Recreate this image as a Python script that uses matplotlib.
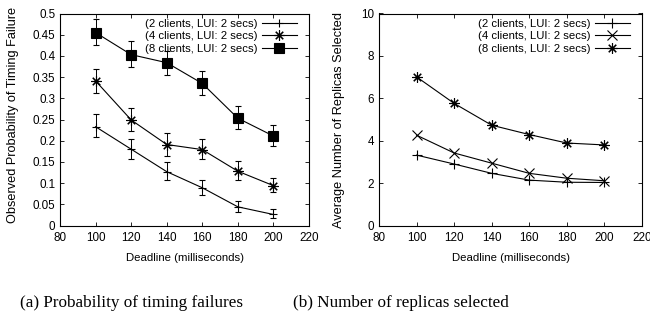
import numpy as np
import matplotlib
matplotlib.use('Agg')
import matplotlib.pyplot as plt
from matplotlib.ticker import FormatStrFormatter

plt.rcParams['font.family'] = ['Liberation Sans', 'DejaVu Sans']

deadline = [100, 120, 140, 160, 180, 200]
labels = ['(2 clients, LUI: 2 secs)', '(4 clients, LUI: 2 secs)', '(8 clients, LUI: 2 secs)']

# probability of timing failure, with error bar bounds
fail_2 = [0.233, 0.180, 0.127, 0.089, 0.044, 0.026]
fail_2_lo = [0.208, 0.157, 0.107, 0.073, 0.032, 0.017]
fail_2_hi = [0.262, 0.205, 0.149, 0.108, 0.058, 0.038]
fail_4 = [0.341, 0.249, 0.191, 0.179, 0.128, 0.094]
fail_4_lo = [0.312, 0.222, 0.165, 0.156, 0.108, 0.078]
fail_4_hi = [0.370, 0.277, 0.217, 0.203, 0.152, 0.113]
fail_8 = [0.455, 0.403, 0.384, 0.335, 0.253, 0.211]
fail_8_lo = [0.425, 0.373, 0.356, 0.307, 0.227, 0.187]
fail_8_hi = [0.488, 0.435, 0.412, 0.365, 0.281, 0.238]

# average number of replicas selected
repl_2 = [3.32, 2.90, 2.46, 2.14, 2.04, 2.03]
repl_4 = [4.26, 3.42, 2.94, 2.46, 2.23, 2.11]
repl_8 = [7.01, 5.76, 4.73, 4.29, 3.89, 3.80]

asterisk = (8, 2, 0)
lw = 0.8
fs_tick = 8.4
fs = 8.2
fs_ylab = 9.2

fig = plt.figure(figsize=(6.5, 3.33), dpi=100)
ax1 = fig.add_axes([60/650, 1-225.5/333, 249/650, 212/333])
ax2 = fig.add_axes([379/650, 1-225.5/333, 263/650, 212/333])


def style_axis(ax):
    ax.tick_params(direction='in', length=3, width=0.6, top=True, right=True,
                   labelsize=fs_tick)
    ax.tick_params(axis='x', pad=5)
    ax.tick_params(axis='y', pad=3.5)
    for s in ax.spines.values():
        s.set_linewidth(0.8)
    ax.set_xlim(80, 220)
    ax.set_xticks(range(80, 221, 20))
    ax.set_xlabel('Deadline (milliseconds)', fontsize=fs, labelpad=6.5)


handles1 = []
series = [(fail_2, fail_2_lo, fail_2_hi, '+', 6),
          (fail_4, fail_4_lo, fail_4_hi, asterisk, 7.5),
          (fail_8, fail_8_lo, fail_8_hi, 's', 6.7)]
for (y, lo, hi, m, ms), lab in zip(series, labels):
    y = np.array(y)
    err = [y - np.array(lo), np.array(hi) - y]
    cont = ax1.errorbar(deadline, y, yerr=err, color='black', lw=lw, elinewidth=0.7,
                        capsize=2, capthick=0.7, marker=m, ms=ms, mew=0.8, label=lab)
    handles1.append(cont.lines[0])
style_axis(ax1)
ax1.set_ylim(0, 0.5)
ax1.set_yticks(np.arange(0, 0.501, 0.05))
ax1.yaxis.set_major_formatter(FormatStrFormatter('%g'))
ax1.set_ylabel('Observed Probability of Timing Failure', fontsize=fs_ylab)
ax1.yaxis.set_label_coords(-0.164, 0.52)

handles2 = []
for y, m, ms, lab in zip([repl_2, repl_4, repl_8], ['+', 'x', asterisk], [7.5, 7, 7.5], labels):
    ln, = ax2.plot(deadline, y, color='black', lw=lw, marker=m, ms=ms, mew=0.8, label=lab)
    handles2.append(ln)
style_axis(ax2)
ax2.set_ylim(0, 10)
ax2.set_yticks(range(0, 11, 2))
ax2.set_ylabel('Average Number of Replicas Selected', fontsize=fs_ylab)
ax2.yaxis.set_label_coords(-0.131, 0.5)

for ax, hs, w in ((ax1, handles1, 249), (ax2, handles2, 263)):
    ax.legend(hs, labels, loc='upper right', bbox_to_anchor=(1 - 11/w, 1 - 4/212),
              frameon=False, fontsize=fs, markerfirst=False, handlelength=3.1,
              handletextpad=0.35, labelspacing=0.22, borderaxespad=0, borderpad=0.1)

fig.text(132/650, 1-303/333, '(a) Probability of timing failures',
         family='Liberation Serif', fontsize=12.3, ha='center', va='center')
fig.text(401/650, 1-303/333, '(b) Number of replicas selected',
         family='Liberation Serif', fontsize=12.3, ha='center', va='center')

fig.savefig('out.png', dpi=100)
